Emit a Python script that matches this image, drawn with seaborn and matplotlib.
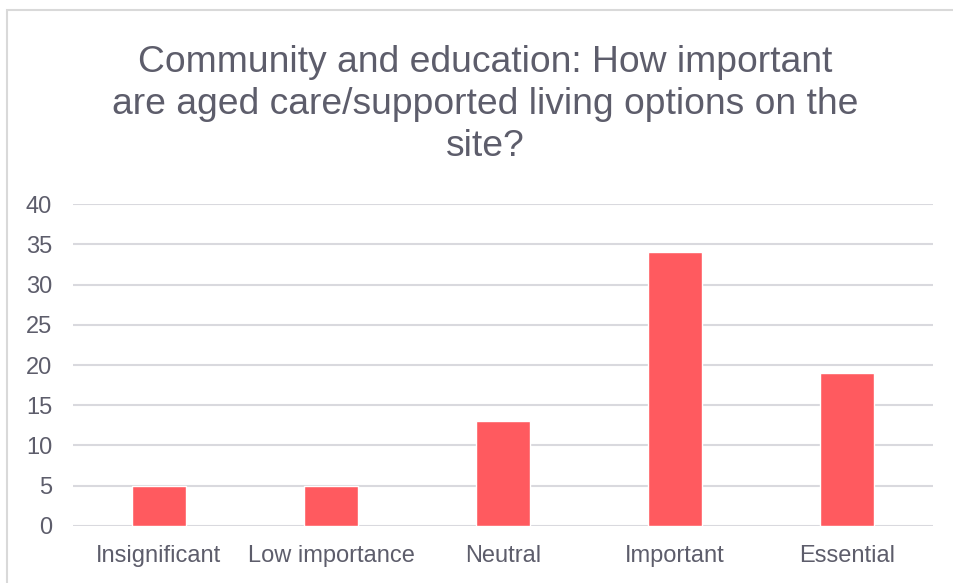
import matplotlib
matplotlib.use("Agg")
import matplotlib.pyplot as plt
import seaborn as sns
import pandas as pd
from matplotlib.patches import Rectangle

categories = ["Insignificant", "Low importance", "Neutral", "Important", "Essential"]
values = [5, 5, 13, 34, 19]
yticks = [0, 5, 10, 15, 20, 25, 30, 35, 40]
title = "Community and education: How important\nare aged care/supported living options on the\nsite?"

sns.set_theme(style="white")
plt.rcParams['font.family'] = ['Liberation Sans', 'DejaVu Sans']

text_color = "#5d5d6b"
bar_color = "#FF5A5F"
grid_color = "#d9d9de"

df = pd.DataFrame({"category": categories, "value": values})

fig = plt.figure(figsize=(9.54, 5.83), dpi=100)
ax = fig.add_axes([0.0765, 0.0978, 0.9015, 0.5522])

sns.barplot(data=df, x="category", y="value", color=bar_color, width=0.315,
            saturation=1, ax=ax, zorder=3)

ax.set_ylim(0, 40)
ax.set_yticks(yticks)
ax.set_xlim(-0.5, len(categories) - 0.5)
ax.yaxis.grid(True, color=grid_color, linewidth=1.5, zorder=0)
ax.set_axisbelow(True)
for s in ax.spines.values():
    s.set_visible(False)
ax.tick_params(axis='both', length=0, labelsize=17, labelcolor=text_color)
ax.tick_params(axis='y', pad=15)
ax.tick_params(axis='x', pad=14)
ax.set_xlabel("")
ax.set_ylabel("")

fig.text(0.509, 0.923, title, ha="center", va="top", fontsize=26.8,
         color=text_color, linespacing=1.26)

fig.patches.append(Rectangle((7/954, -0.1), 1.2, (583 - 10)/583 + 0.1,
                             transform=fig.transFigure, fill=False,
                             edgecolor="#d9d9d9", linewidth=1.5))

fig.savefig("out.png", dpi=100)
